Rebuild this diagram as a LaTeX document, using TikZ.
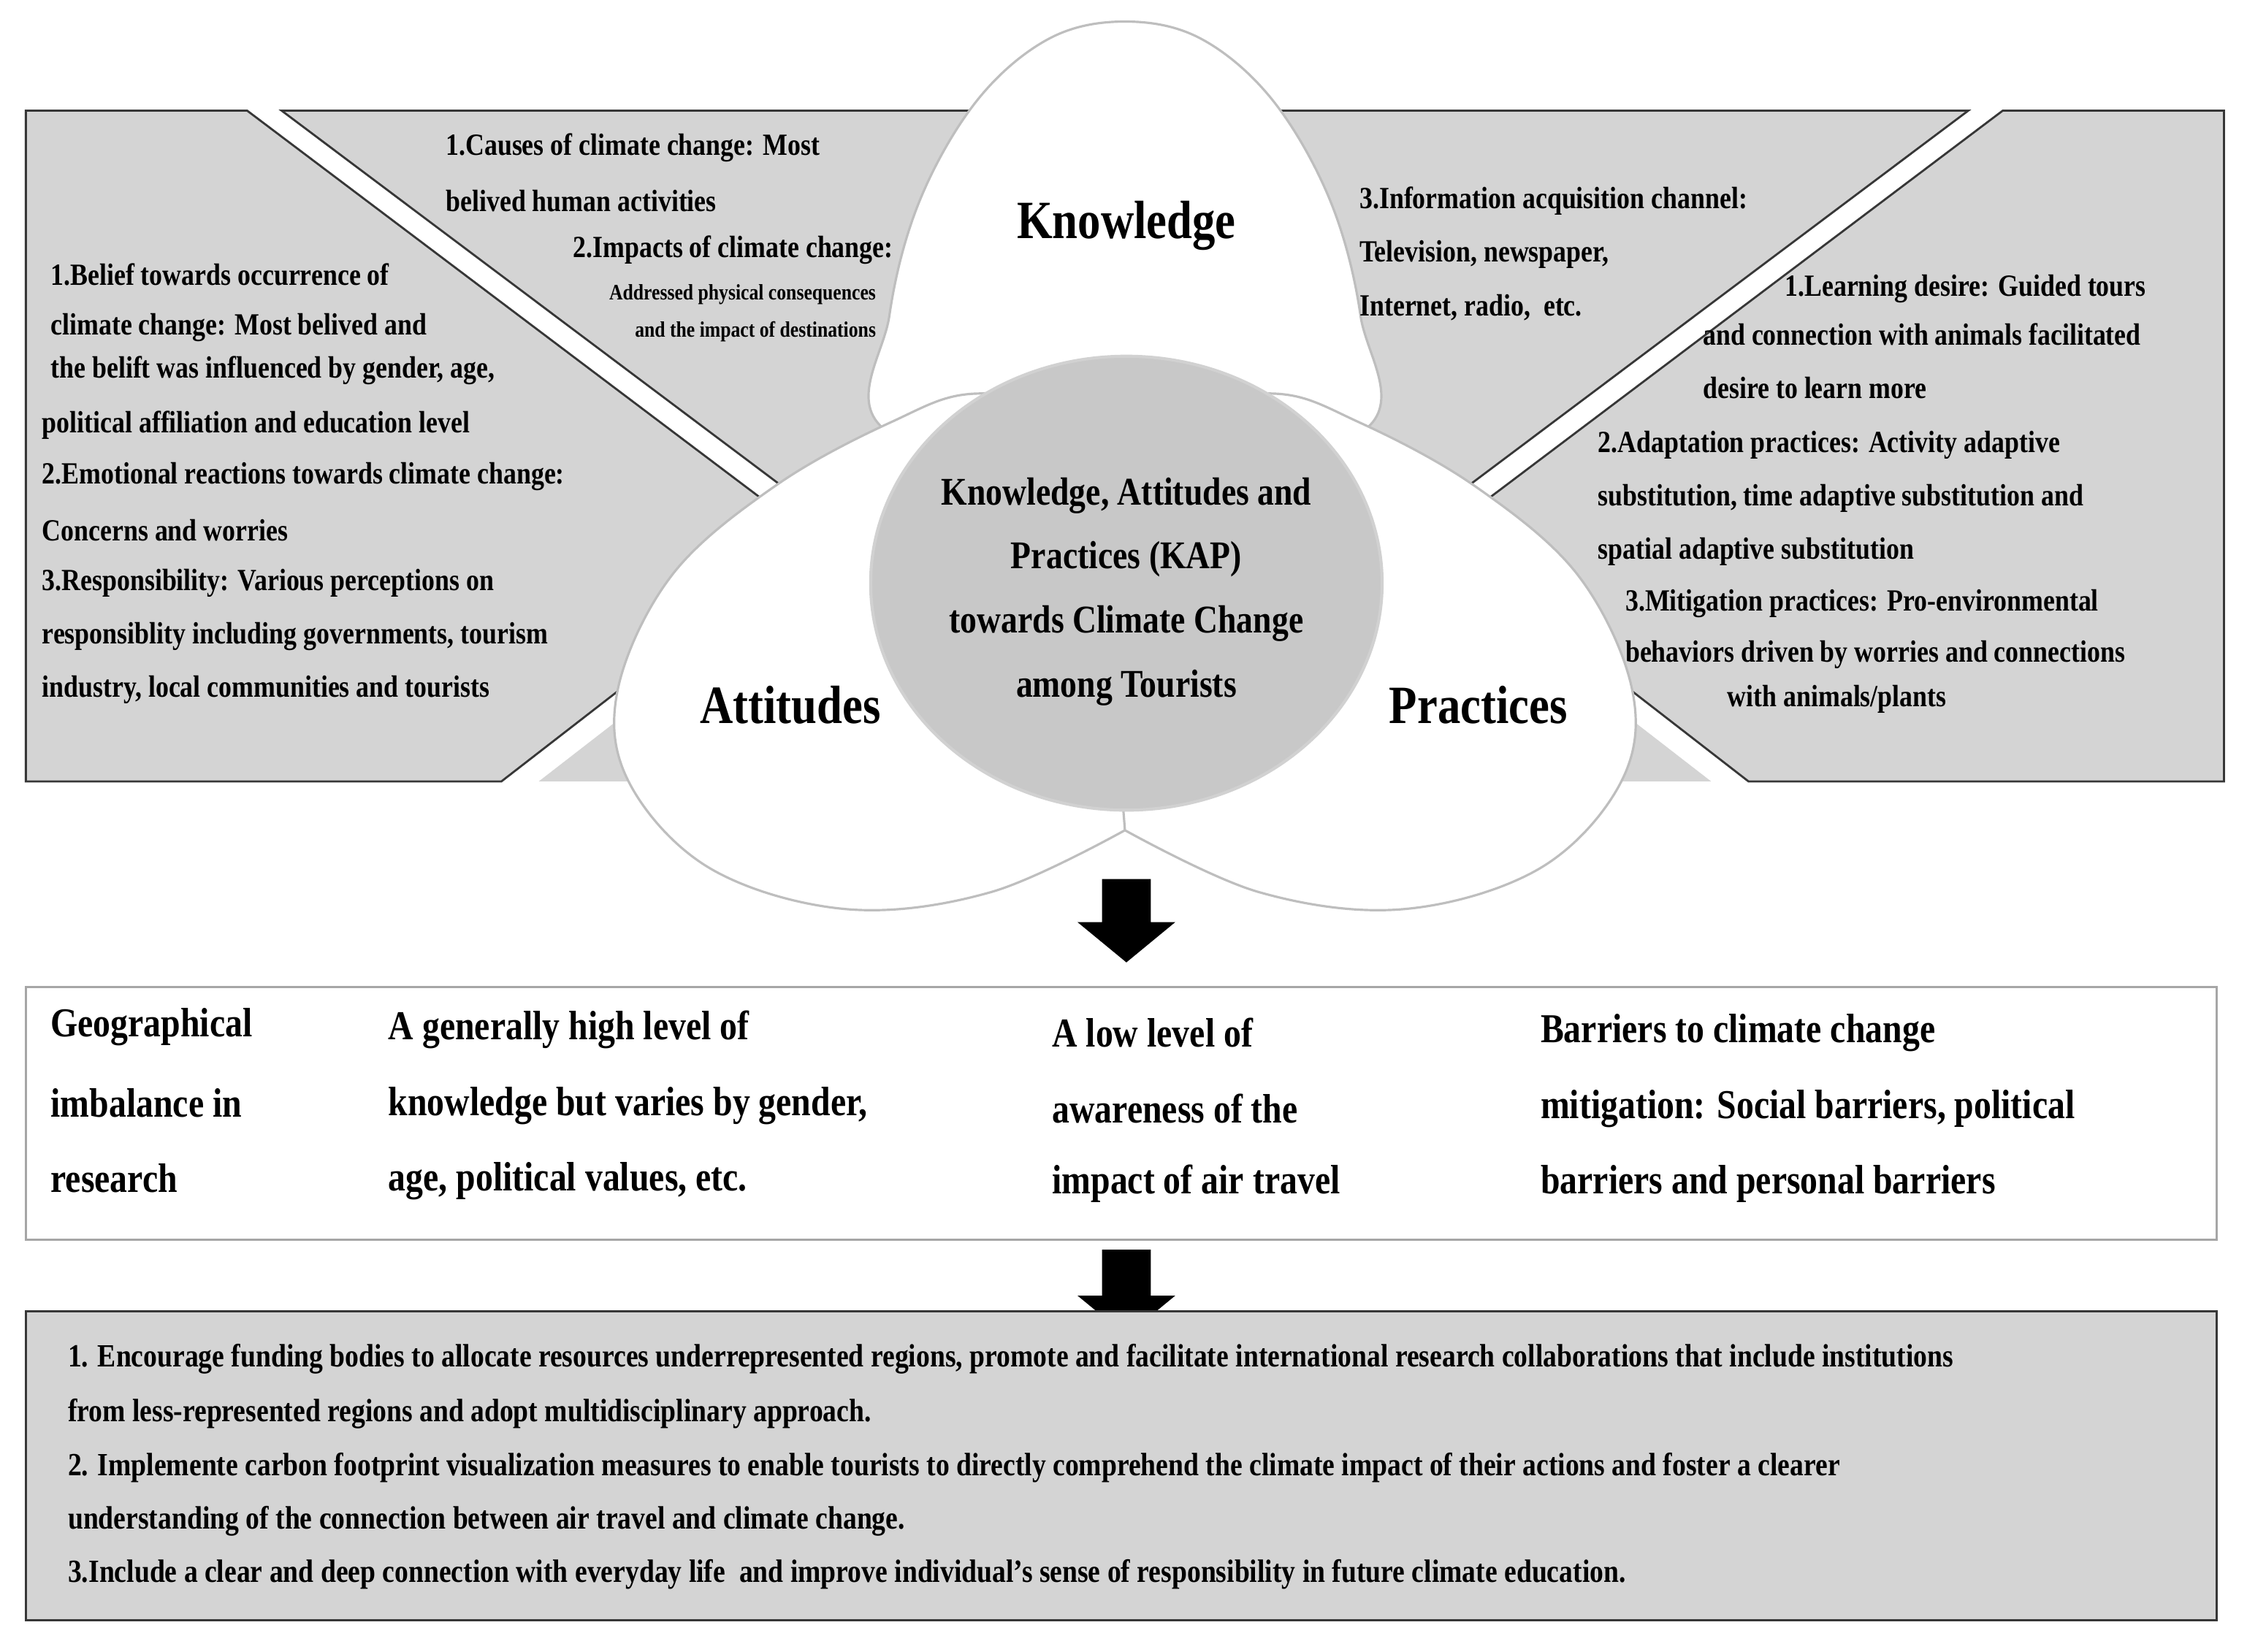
\documentclass[tikz,border=0pt]{standalone}
\usepackage{fontspec}
\setmainfont{Liberation Serif}[FakeStretch=0.85]
\definecolor{bandgray}{RGB}{212,212,212}
\definecolor{kapgray}{RGB}{200,200,200}
\definecolor{lobeline}{RGB}{190,190,190}
\definecolor{darkline}{RGB}{55,55,55}
\begin{document}
\begin{tikzpicture}[x=0.1967mm,y=-0.1967mm,
  txt/.style={anchor=west,inner sep=0,font=\bfseries\fontsize{12}{14}\selectfont},
  txtr/.style={anchor=east,inner sep=0,font=\bfseries\fontsize{12}{14}\selectfont},
  tiny/.style={anchor=east,inner sep=0,font=\bfseries\fontsize{8.6}{10}\selectfont},
  kap/.style={anchor=center,inner sep=0,font=\bfseries\fontsize{15.3}{17}\selectfont},
  big/.style={anchor=center,inner sep=0,font=\bfseries\fontsize{21}{24}\selectfont},
  mid/.style={anchor=west,inner sep=0,font=\bfseries\fontsize{16}{18}\selectfont},
  bot/.style={anchor=west,inner sep=0,font=\bfseries\fontsize{12.6}{14}\selectfont},
  band/.style={fill=bandgray},
  edge/.style={draw=darkline,line width=0.8pt},
  lobe/.style={fill=white,draw=lobeline,line width=0.9pt}]
\useasboundingbox (0,0) rectangle (1564,1150);
% ---- grey bands, left
\fill[band] (18,77)--(172,77)--(567,375)--(349,544)--(18,544)--cycle;
\draw[edge] (567,375)--(172,77)--(18,77)--(18,544)--(349,544)--(567,375);
\fill[band] (196,77)--(700,77)--(700,300)--(593,375)--cycle;
\draw[edge] (593,375)--(196,77)--(700,77);
\fill[band] (375,544)--(495,451)--(600,544)--cycle;
% ---- grey bands, right (mirror)
\fill[band] (1548,77)--(1394,77)--(999,375)--(1217,544)--(1548,544)--cycle;
\draw[edge] (999,375)--(1394,77)--(1548,77)--(1548,544)--(1217,544)--(999,375);
\fill[band] (1370,77)--(866,77)--(866,300)--(973,375)--cycle;
\draw[edge] (973,375)--(1370,77)--(866,77);
\fill[band] (1191,544)--(1071,451)--(966,544)--cycle;
% ---- lobes
\draw[lobe] plot[smooth cycle,tension=0.6] coordinates {(617,300) (619,220) (640,140) (680,70) (730,27) (783,15) (836,27) (886,70) (926,140) (947,220) (949,300) (783,340)};
\draw[lobe] plot[smooth,tension=0.6] coordinates {(783,578) (690,621) (590,633) (495,605) (438,545) (430,480) (468,400) (540,338) (620,294) (680,274) (760,290) (790,400) (783,578)} -- cycle;
\draw[lobe] plot[smooth,tension=0.6] coordinates {(783,578) (876,621) (976,633) (1071,605) (1128,545) (1136,480) (1098,400) (1026,338) (946,294) (886,274) (806,290) (776,400) (783,578)} -- cycle;
\draw[fill=kapgray,draw=lobeline!70!white,line width=1.2pt] (784,406) ellipse [x radius=178,y radius=158];
% ---- labels
\node[big] (k) at (784,157) {Knowledge};
\node[big] (a) at (550,491) {Attitudes};
\node[big] (p) at (1029,491) {Practices};
\node[kap] (c1) at (784,345) {Knowledge, Attitudes and};
\node[kap] (c2) at (784,389) {Practices (KAP)};
\node[kap] (c3) at (784,434) {towards Climate Change};
\node[kap] (c4) at (784,479) {among Tourists};
% ---- left texts
\node[txt] (l1) at (35,191) {1.Belief towards occurrence of};
\node[txt] (l2) at (35,228) {climate change: Most belived and};
\node[txt] (l3) at (35,258) {the belift was influenced by gender, age,};
\node[txt] (l4) at (29,296) {political affiliation and education level};
\node[txt] (l5) at (29,332) {2.Emotional reactions towards climate change:};
\node[txt] (l6) at (29,369) {Concerns and worries};
\node[txt] (l7) at (29,406) {3.Responsibility: Various perceptions on};
\node[txt] (l8) at (29,443) {responsiblity including governments, tourism};
\node[txt] (l9) at (29,480) {industry, local communities and tourists};
\node[txt] (m1) at (310,103) {1.Causes of climate change: Most};
\node[txt] (m2) at (310,140) {belived human activities};
\node[txtr] (m3) at (622,174) {2.Impacts of climate change:};
\node[tiny] (m4) at (610,205) {Addressed physical consequences};
\node[tiny] (m5) at (610,231) {and the impact of destinations};
% ---- right texts
\node[txt] (r1) at (946,140) {3.Information acquisition channel:};
\node[txt] (r2) at (946,177) {Television, newspaper,};
\node[txt] (r3) at (946,214) {Internet, radio,~ etc.};
\node[txt] (s1) at (1242,201) {1.Learning desire: Guided tours};
\node[txt] (s2) at (1185,233) {and connection with animals facilitated};
\node[txt] (s3) at (1185,270) {desire to learn more};
\node[txt] (s4) at (1112,310) {2.Adaptation practices: Activity adaptive};
\node[txt] (s5) at (1112,347) {substitution, time adaptive substitution and};
\node[txt] (s6) at (1112,384) {spatial adaptive substitution};
\node[txt] (s7) at (1131,420) {3.Mitigation practices: Pro-environmental};
\node[txt] (s8) at (1131,456) {behaviors driven by worries and connections};
\node[txt] (s9) at (1202,487) {with animals/plants};
% ---- arrows
\fill[black] (767,612)--(801,612)--(801,642)--(818,642)--(784,670)--(750,642)--(767,642)--cycle;
\fill[black] (767,870)--(801,870)--(801,902)--(818,902)--(784,930)--(750,902)--(767,902)--cycle;
% ---- middle box
\draw[fill=white,draw=gray!70,line width=0.9pt] (18,687) rectangle (1543,863);
\node[mid] (g1) at (35,715) {Geographical};
\node[mid] (g2) at (35,768) {imbalance in};
\node[mid] (g3) at (35,820) {research};
\node[mid] (h1) at (270,717) {A generally high level of};
\node[mid] (h2) at (270,770) {knowledge but varies by gender,};
\node[mid] (h3) at (270,822) {age, political values, etc.};
\node[mid] (i1) at (732,719) {A low level of};
\node[mid] (i2) at (732,772) {awareness of the};
\node[mid] (i3) at (732,824) {impact of air travel};
\node[mid] (j1) at (1072,719) {Barriers to climate change};
\node[mid] (j2) at (1072,772) {mitigation: Social barriers, political};
\node[mid] (j3) at (1072,824) {barriers and personal barriers};
% ---- bottom box
\draw[fill=bandgray,draw=darkline,line width=0.8pt] (18,913) rectangle (1543,1128);
\node[bot] (b1) at (47,946) {1. Encourage funding bodies to allocate resources underrepresented regions, promote and facilitate international research collaborations that include institutions};
\node[bot] (b2) at (47,984) {from less-represented regions and adopt multidisciplinary approach.};
\node[bot] (b3) at (47,1022) {2. Implemente carbon footprint visualization measures to enable tourists to directly comprehend the climate impact of their actions and foster a clearer};
\node[bot] (b4) at (47,1059) {understanding of the connection between air travel and climate change.};
\node[bot] (b5) at (47,1096) {3.Include a clear and deep connection with everyday life~ and improve individual’s sense of responsibility in future climate education.};
\end{tikzpicture}
\end{document}
